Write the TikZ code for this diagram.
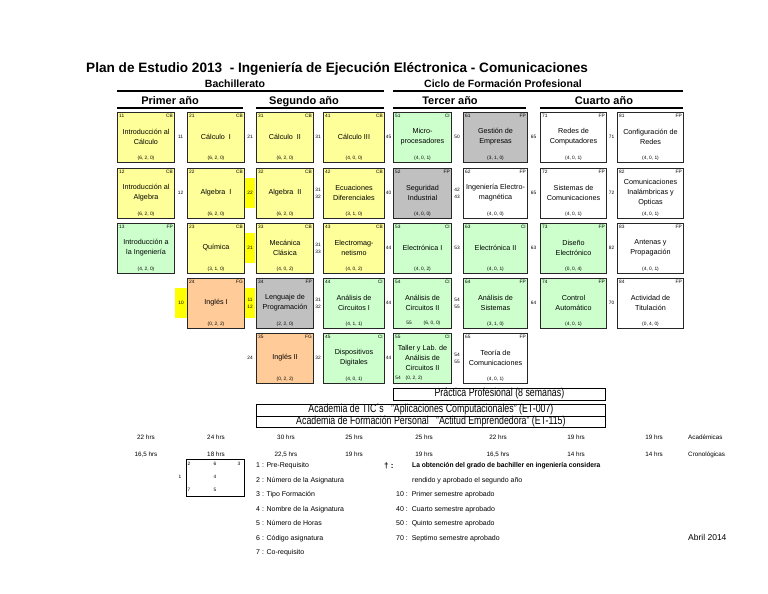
\documentclass[tikz,border=0pt]{standalone}
\usepackage{fontspec}
\setmainfont{Liberation Sans}
\definecolor{cyel}{HTML}{FFFF99}
\definecolor{cgrn}{HTML}{CCFFCC}
\definecolor{cgry}{HTML}{C0C0C0}
\definecolor{corg}{HTML}{FFCC99}
\definecolor{chl}{HTML}{FFFF00}
\newcommand\subj[9]{%
  \node[sbox, fill=#5, minimum width=#3pt] (#1) at (#2,#4) {};
  \node[tiny, anchor=north west] (#1-c) at ([xshift=2pt,yshift=-2pt]#1.north west) {#6};
  \node[tiny, anchor=north east] (#1-t) at ([xshift=-2pt,yshift=-2pt]#1.north east) {#7};
  \node[ttl] (#1-n) at ([yshift=1pt]#1.center) {#8};
  \node[tiny, anchor=base] (#1-h) at ([yshift=3.5pt]#1.south) {#9};
}
\newcommand\pre[4]{\node[pnum] (#1) at (#2,#3) {#4};}
\newcommand\hl[3]{\fill[chl] (#1,#3-15) rectangle (#2,#3+15);}
\begin{document}
\begin{tikzpicture}[x=1pt,y=-1pt,
  sbox/.style={draw=black!85, line width=1pt, minimum height=50pt, inner sep=0pt, anchor=north west},
  tiny/.style={font=\fontsize{4.8}{5}\selectfont, inner sep=0pt},
  pnum/.style={font=\fontsize{4.8}{7}\selectfont, inner sep=0pt, align=center},
  ttl/.style={font=\fontsize{7.2}{10}\selectfont, align=center, inner sep=0pt},
  hdrline/.style={line width=2.2pt},
  hrs/.style={font=\fontsize{6.3}{7}\selectfont, inner sep=0pt, anchor=base},
  leg/.style={font=\fontsize{7}{8}\selectfont, inner sep=0pt, anchor=base west},
  wide/.style={draw=black, line width=0.8pt, inner sep=0pt, anchor=north west, minimum height=11.5pt}]
\fill[white] (0,0) rectangle (768,594);
\useasboundingbox (0,0) rectangle (768,594);

% headings
\node[anchor=base west, inner sep=0pt, font=\fontsize{13.6}{14}\bfseries] (title) at (86,72)
  {Plan de Estudio 2013\ \ - Ingeniería de Ejecución Eléctronica - Comunicaciones};
\node[anchor=base, inner sep=0pt, font=\fontsize{10.5}{12}\bfseries] (bach) at (235,88) {Bachillerato};
\node[anchor=base, inner sep=0pt, font=\fontsize{10.5}{12}\bfseries] (ciclo) at (503,88) {Ciclo de Formación Profesional};
\draw[hdrline] (117,91) -- (384,91);
\draw[hdrline] (393,91) -- (683,91);
\node[anchor=base, inner sep=0pt, font=\fontsize{11}{12}\bfseries] (y1) at (170,104) {Primer año};
\node[anchor=base, inner sep=0pt, font=\fontsize{11}{12}\bfseries] (y2) at (304,104) {Segundo año};
\node[anchor=base, inner sep=0pt, font=\fontsize{11}{12}\bfseries] (y3) at (450,104) {Tercer año};
\node[anchor=base, inner sep=0pt, font=\fontsize{11}{12}\bfseries] (y4) at (604,104) {Cuarto año};
\draw[hdrline] (117,108) -- (243,108);
\draw[hdrline] (256,108) -- (384,108);
\draw[hdrline] (393,108) -- (526,108);
\draw[hdrline] (540,108) -- (683,108);

% highlights
\hl{175}{187}{303}
\hl{245}{255}{193}
\hl{245}{255}{248}
\hl{245}{255}{303}

% row 1
\subj{s11}{117}{57}{112}{cyel}{11}{CB}{Introducción al\\Cálculo}{(6,\ 2,\ 0)}
\subj{s21}{187}{57}{112}{cyel}{21}{CB}{Cálculo\ \ I}{(6,\ 2,\ 0)}
\subj{s31}{256}{57}{112}{cyel}{31}{CB}{Cálculo\ \ II}{(6,\ 2,\ 0)}
\subj{s41}{323}{61}{112}{cyel}{41}{CB}{Cálculo III}{(4,\ 0,\ 0)}
\subj{s51}{393}{58}{112}{cgrn}{51}{CI}{Micro-\\procesadores}{(4,\ 0,\ 1)}
\subj{s61}{463}{64}{112}{cgry}{61}{FP}{Gestión de\\Empresas}{(3,\ 1,\ 0)}
\subj{s71}{540}{66}{112}{white}{71}{FP}{Redes de\\Computadores}{(4,\ 0,\ 1)}
\subj{s81}{617}{66}{112}{white}{81}{FP}{Configuración de\\Redes}{(4,\ 0,\ 1)}
% row 2
\subj{s12}{117}{57}{168}{cyel}{12}{CB}{Introducción al\\Algebra}{(6,\ 2,\ 0)}
\subj{s22}{187}{57}{168}{cyel}{22}{CB}{Algebra\ \ I}{(6,\ 2,\ 0)}
\subj{s32}{256}{57}{168}{cyel}{32}{CB}{Algebra\ \ II}{(6,\ 2,\ 0)}
\subj{s42}{323}{61}{168}{cyel}{42}{CB}{Ecuaciones\\Diferenciales}{(3,\ 1,\ 0)}
\subj{s52}{393}{58}{168}{cgry}{52}{FP}{Seguridad\\Industrial}{(4,\ 0,\ 0)}
\subj{s62}{463}{64}{168}{white}{62}{FP}{Ingeniería Electro-\\magnética}{(4,\ 0,\ 0)}
\subj{s72}{540}{66}{168}{white}{72}{FP}{Sistemas de\\Comunicaciones}{(4,\ 0,\ 1)}
\subj{s82}{617}{66}{168}{white}{82}{FP}{Comunicaciones\\Inalámbricas y\\Opticas}{(4,\ 0,\ 1)}
% row 3
\subj{s13}{117}{57}{223}{cgrn}{13}{FP}{Introducción a\\la Ingeniería}{(4,\ 2,\ 0)}
\subj{s23}{187}{57}{223}{cyel}{23}{CB}{Química}{(3,\ 1,\ 0)}
\subj{s33}{256}{57}{223}{cyel}{33}{CB}{Mecánica\\Clásica}{(4,\ 0,\ 2)}
\subj{s43}{323}{61}{223}{cyel}{43}{CB}{Electromag-\\netismo}{(4,\ 0,\ 2)}
\subj{s53}{393}{58}{223}{cgrn}{53}{CI}{Electrónica I}{(4,\ 0,\ 2)}
\subj{s63}{463}{64}{223}{cgrn}{63}{CI}{Electrónica II}{(4,\ 0,\ 1)}
\subj{s73}{540}{66}{223}{cgrn}{73}{FP}{Diseño\\Electrónico}{(0,\ 0,\ 4)}
\subj{s83}{617}{66}{223}{white}{83}{FP}{Antenas y\\Propagación}{(4,\ 0,\ 1)}
% row 4
\subj{s24}{187}{57}{278}{corg}{24}{FG}{Inglés I}{(0,\ 2,\ 2)}
\subj{s34}{256}{57}{278}{cgry}{34}{FP}{Lenguaje de\\Programación}{(2,\ 2,\ 0)}
\subj{s44}{323}{61}{278}{cgrn}{44}{CI}{Análisis de\\Circuitos I}{(4,\ 1,\ 1)}
\subj{s54}{393}{58}{278}{cgrn}{54}{CI}{Análisis de\\Circuitos II}{}
\subj{s64}{463}{64}{278}{cgrn}{64}{FP}{Análisis de\\Sistemas}{(3,\ 1,\ 0)}
\subj{s74}{540}{66}{278}{cgrn}{74}{FP}{Control\\Automático}{(4,\ 0,\ 1)}
\subj{s84}{617}{66}{278}{white}{84}{FP}{Actividad de\\Titulación}{(0,\ 4,\ 0)}
% row 5
\subj{s35}{256}{57}{333}{corg}{35}{FG}{Inglés II}{(0,\ 2,\ 2)}
\subj{s45}{323}{61}{333}{cgrn}{45}{CI}{Dispositivos\\Digitales}{(4,\ 0,\ 1)}
\subj{s55}{393}{58}{333}{cgrn}{55}{CI}{Taller y Lab. de\\Análisis de\\Circuitos II}{}
\subj{s65}{463}{64}{333}{white}{65}{FP}{Teoría de\\Comunicaciones}{(4,\ 0,\ 1)}
% co-requisites
\node[tiny, anchor=base] (co54) at (409,324.5) {55};
\node[tiny, anchor=base] (tr54) at (432,324.5) {(6,\ 0,\ 0)};
\node[tiny, anchor=base] (co55) at (398,379.5) {54};
\node[tiny, anchor=base] (tr55) at (414,379.5) {(0,\ 2,\ 2)};

% pre-requisites
\pre{p11}{180.5}{137}{11}
\pre{p12}{250}{137}{21}
\pre{p13}{318}{137}{31}
\pre{p14}{388.5}{137}{45}
\pre{p15}{457}{137}{50}
\pre{p16}{533.5}{137}{65}
\pre{p17}{611.5}{137}{71}
\pre{p21}{180.5}{193}{12}
\pre{p22}{250}{193}{22}
\pre{p23}{318}{193}{31\\32}
\pre{p24}{388.5}{193}{40}
\pre{p25}{457}{193}{42\\43}
\pre{p26}{533.5}{193}{65}
\pre{p27}{611.5}{193}{72}
\pre{p32}{250}{248}{21}
\pre{p33}{318}{248}{31\\33}
\pre{p34}{388.5}{248}{44}
\pre{p35}{457}{248}{53}
\pre{p36}{533.5}{248}{63}
\pre{p37}{611.5}{248}{82}
\pre{p41}{181}{303}{10}
\pre{p42}{250}{303}{11\\12}
\pre{p43}{318}{303}{31\\32}
\pre{p44}{388.5}{303}{44}
\pre{p45}{457}{303}{54\\55}
\pre{p46}{533.5}{303}{64}
\pre{p47}{611.5}{303}{70}
\pre{p52}{250}{358}{24}
\pre{p53}{318}{358}{32}
\pre{p54}{388.5}{358}{44}
\pre{p55}{457}{358}{54\\55}

% long boxes
\node[wide, minimum width=212pt] (prac) at (393,388) {};
\node[inner sep=0pt] (pract) at ([yshift=0.5pt]prac.center) {\scalebox{0.8}[1.05]{\fontsize{11}{11}\selectfont Práctica Profesional (8 semanas)}};
\node[wide, minimum width=349pt] (acad1) at (256,404) {};
\node[inner sep=0pt] (acad1t) at ([yshift=0.5pt]acad1.center) {\scalebox{0.8}[1.05]{\fontsize{11}{11}\selectfont Academia de TIC´s\ \ \ "Aplicaciones Computacionales" (ET-007)}};
\node[wide, minimum width=349pt] (acad2) at (256,415.5) {};
\node[inner sep=0pt] (acad2t) at ([yshift=0.5pt]acad2.center) {\scalebox{0.8}[1.05]{\fontsize{11}{11}\selectfont Academia de Formación Personal\ \ \ "Actitud Emprendedora" (ET-115)}};

% hours
\node[hrs] (ha1) at (146,439) {22 hrs};
\node[hrs] (ha2) at (216,439) {24 hrs};
\node[hrs] (ha3) at (286,439) {30 hrs};
\node[hrs] (ha4) at (354,439) {25 hrs};
\node[hrs] (ha5) at (424,439) {25 hrs};
\node[hrs] (ha6) at (498,439) {22 hrs};
\node[hrs] (ha7) at (576,439) {19 hrs};
\node[hrs] (ha8) at (654,439) {19 hrs};
\node[hrs] (hb1) at (146,456) {16,5 hrs};
\node[hrs] (hb2) at (216,456) {18 hrs};
\node[hrs] (hb3) at (286,456) {22,5 hrs};
\node[hrs] (hb4) at (354,456) {19 hrs};
\node[hrs] (hb5) at (424,456) {19 hrs};
\node[hrs] (hb6) at (498,456) {16,5 hrs};
\node[hrs] (hb7) at (576,456) {14 hrs};
\node[hrs] (hb8) at (654,456) {14 hrs};
\node[hrs, anchor=base west] (acad) at (688,439) {Académicas};
\node[hrs, anchor=base west] (cron) at (688,456) {Cronológicas};

% legend box
\node[draw=black, line width=0.7pt, minimum width=58pt, minimum height=37pt, inner sep=0pt, anchor=north west] (lbox) at (186,459) {};
\node[tiny] (l2) at (189,464) {2};
\node[tiny] (l6) at (215,464) {6};
\node[tiny] (l3) at (239,464) {3};
\node[tiny] (l1) at (180,477) {1};
\node[tiny] (l4) at (215,477) {4};
\node[tiny] (l7) at (189,490) {7};
\node[tiny] (l5) at (215,490) {5};
\node[leg] (t1) at (256,467.5) {1 : Pre-Requisito};
\node[leg] (t2) at (256,482) {2 : Número de la Asignatura};
\node[leg] (t3) at (256,496.5) {3 : Tipo Formación};
\node[leg] (t4) at (256,511) {4 : Nombre de la Asignatura};
\node[leg] (t5) at (256,525.5) {5 : Número de Horas};
\node[leg] (t6) at (256,540) {6 : Código asignatura};
\node[leg] (t7) at (256,554.5) {7 : Co-requisito};

\node[leg, font=\fontsize{8}{8}\bfseries] (dag) at (384,468) {\textdagger\ :};
\node[leg, font=\fontsize{7}{8}\bfseries] (r0) at (412,467.5) {\scalebox{0.95}[1]{La obtención del grado de bachiller en ingeniería considera}};
\node[leg] (r1) at (412,482) {rendido y aprobado el segundo año};
\node[leg] (r2) at (396,496.5) {10 :\ \ Primer semestre aprobado};
\node[leg] (r3) at (396,511) {40 :\ \ Cuarto semestre aprobado};
\node[leg] (r4) at (396,525.5) {50 :\ \ Quinto semestre aprobado};
\node[leg] (r5) at (396,540) {70 :\ \ Septimo semestre aprobado};
\node[anchor=base west, inner sep=0pt, font=\fontsize{8.5}{9}\selectfont] (fecha) at (688,540) {Abril 2014};
\end{tikzpicture}
\end{document}
